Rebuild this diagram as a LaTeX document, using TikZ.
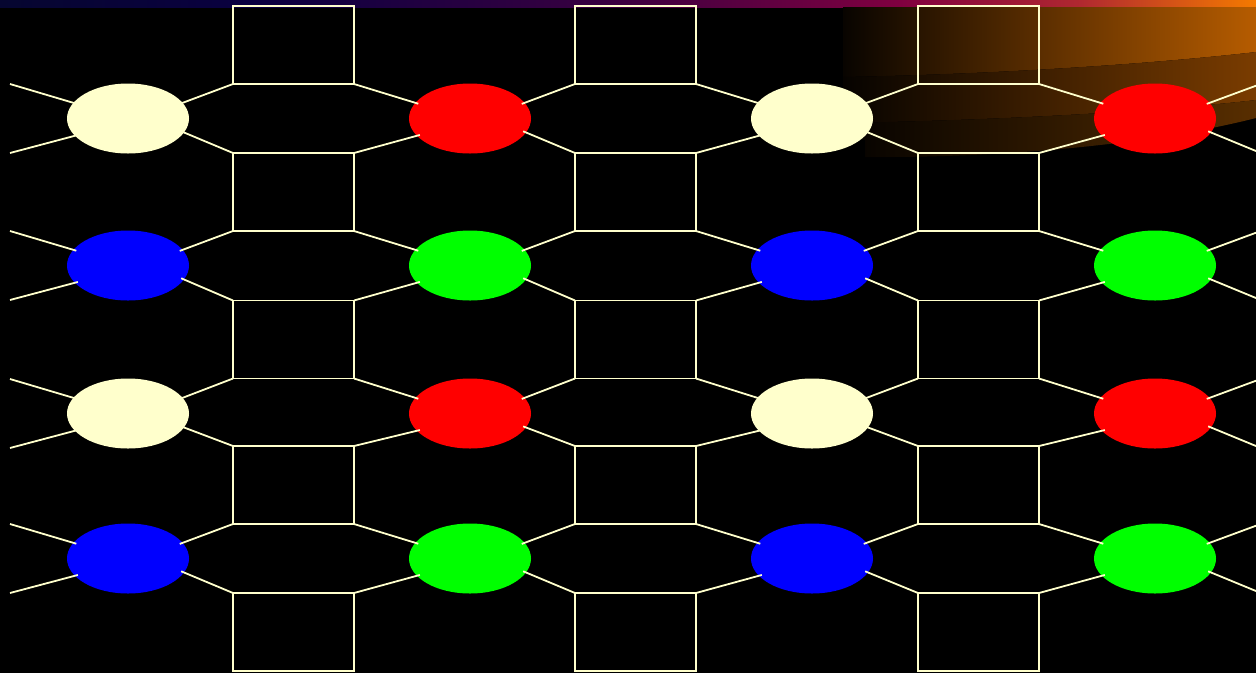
\documentclass[tikz,border=0pt]{standalone}
\usetikzlibrary{shapes.geometric}
\definecolor{cream}{HTML}{FFFFCC}
\definecolor{dred}{HTML}{FF0000}
\definecolor{dblue}{HTML}{0000FF}
\definecolor{dgreen}{HTML}{00FF00}
\begin{document}
\begin{tikzpicture}[x=1pt,y=-1pt,
  sqbox/.style={draw=cream, line width=1.8pt, minimum width=121pt, minimum height=78pt, inner sep=0pt, outer sep=0pt},
  dot/.style={ellipse, minimum width=122pt, minimum height=70pt, inner sep=0pt, outer sep=0pt, draw=none},
  link/.style={draw=cream, line width=1.8pt}]
\useasboundingbox (0,0) rectangle (1256,673);
\fill[black] (0,0) rectangle (1256,673);
\begin{scope}
\clip (0,0) rectangle (1256,673);
% top bar
\shade[left color={rgb,255:red,6;green,6;blue,48}, right color={rgb,255:red,10;green,0;blue,64}] (0,0) rectangle (250.5,7);
\shade[left color={rgb,255:red,10;green,0;blue,64}, right color={rgb,255:red,56;green,0;blue,64}] (250,0) rectangle (600.5,7);
\shade[left color={rgb,255:red,56;green,0;blue,64}, right color={rgb,255:red,128;green,0;blue,64}] (600,0) rectangle (900.5,7);
\shade[left color={rgb,255:red,128;green,0;blue,64}, right color={rgb,255:red,176;green,40;blue,48}] (900,0) rectangle (1080.5,7);
\shade[left color={rgb,255:red,176;green,40;blue,48}, right color={rgb,255:red,245;green,122;blue,0}] (1080,0) rectangle (1256,7);
% glow
\shade[left color={rgb,255:red,8;green,4;blue,0}, right color={rgb,255:red,182;green,92;blue,0}]
  (843,7) -- (1256,7) -- (1256,52) .. controls (1150,64) and (1000,74) .. (843,77) -- cycle;
\shade[left color={rgb,255:red,6;green,3;blue,0}, right color={rgb,255:red,122;green,60;blue,0}]
  (843,77) .. controls (1000,74) and (1150,64) .. (1256,52) -- (1256,100) .. controls (1150,112) and (1000,120) .. (843,123) -- cycle;
\shade[left color={rgb,255:red,4;green,2;blue,0}, right color={rgb,255:red,88;green,46;blue,0}]
  (843,123) .. controls (1000,120) and (1150,112) .. (1256,100) -- (1256,118) .. controls (1150,145) and (1000,158) .. (865,157) -- (865,140) -- (843,135) -- cycle;
% squares
\foreach \c/\x in {1/293.5,2/635.5,3/978.5}
  \foreach \r/\y in {0/45,1/192,2/339.5,3/485,4/632}
    \node[sqbox] (s\r\c) at (\x,\y) {};
% ellipses
\foreach \r/\y/\ca/\cb in {1/118.5/cream/dred, 2/265.5/dblue/dgreen, 3/413.5/cream/dred, 4/558.5/dblue/dgreen} {
  \node[dot, fill=\ca] (e\r1) at (128,\y) {};
  \node[dot, fill=\cb] (e\r2) at (470,\y) {};
  \node[dot, fill=\ca] (e\r3) at (812,\y) {};
  \node[dot, fill=\cb] (e\r4) at (1155,\y) {};
}
% connectors
\foreach \r/\y [evaluate=\r as \p using int(\r-1)] in {1/118.5,2/265.5,3/413.5,4/558.5} {
  \coordinate (Lu\r) at (10,\y-34.5);
  \coordinate (Ld\r) at (10,\y+34.5);
  \coordinate (Ru\r) at (1262,\y-35);
  \coordinate (Rd\r) at (1262,\y+35);
  \draw[link, shorten >=-3pt] (Lu\r) -- (e\r1.164);
  \draw[link, shorten >=-3pt] (Ld\r) -- (e\r1.-162);
  \draw[link, shorten <=-3pt] (e\r4.16) -- (Ru\r);
  \draw[link, shorten <=-3pt] (e\r4.-14) -- (Rd\r);
  \foreach \c [evaluate=\c as \n using int(\c+1)] in {1,2,3} {
    \draw[link, shorten <=-3pt] (e\r\c.16) -- (s\p\c.south west);
    \draw[link, shorten <=-3pt] (e\r\c.-14) -- (s\r\c.north west);
    \draw[link, shorten >=-3pt] (s\p\c.south east) -- (e\r\n.164);
    \draw[link, shorten >=-3pt] (s\r\c.north east) -- (e\r\n.-162);
  }
}
\end{scope}
\end{tikzpicture}
\end{document}
